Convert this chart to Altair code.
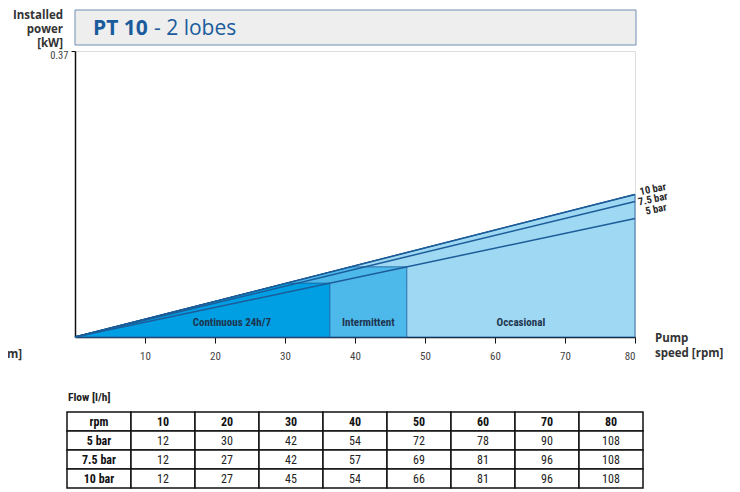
import altair as alt
import pandas as pd

# ---------------- data ----------------
rpm_ticks = [10, 20, 30, 40, 50, 60, 70, 80]
max_rpm = 80
y_max = 0.37
pressure_labels = ["10 bar", "7.5 bar", "5 bar"]
power_at_max_rpm = [0.1843, 0.1753, 0.1532]   # kW at 80 rpm

region_names = ["Continuous 24h/7", "Intermittent", "Occasional"]
region_end_rpm = [36.4, 47.4, 80]
region_label_rpm = [22.4, 41.9, 63.7]

table_cols = ["rpm", "10", "20", "30", "40", "50", "60", "70", "80"]
table_rows = ["5 bar", "7.5 bar", "10 bar"]
flow_5 = [12, 30, 42, 54, 72, 78, 90, 108]
flow_75 = [12, 27, 42, 57, 69, 81, 96, 108]
flow_10 = [12, 27, 45, 54, 66, 81, 96, 108]

# ---------------- styles ----------------
region_colors = ["#009ee2", "#4db8ea", "#9fd8f3"]
line_color = "#1c5c99"
title_color = "#1a5b9c"
txt_dark = "#2a2a2a"
COND = "Liberation Sans Narrow, Roboto Condensed, DejaVu Sans Condensed, Roboto"
SANS = "Open Sans"

# ---------------- derived tables ----------------
lines_df = pd.DataFrame(
    [{"pressure": p, "rpm": 0, "power": 0.0} for p in pressure_labels]
    + [{"pressure": p, "rpm": max_rpm, "power": v} for p, v in zip(pressure_labels, power_at_max_rpm)]
)

slope_top = power_at_max_rpm[0] / max_rpm
slope_low = power_at_max_rpm[2] / max_rpm


def region_poly(end_rpm):
    if end_rpm >= max_rpm:
        return pd.DataFrame({"rpm": [0, max_rpm], "power": [0, power_at_max_rpm[0]]})
    cap = slope_low * end_rpm
    xb = cap / slope_top
    return pd.DataFrame({"rpm": [0, xb, end_rpm], "power": [0, cap, cap]})


xs = alt.Scale(domain=[0, max_rpm], nice=False, zero=False)
ys = alt.Scale(domain=[0, y_max], nice=False)


def X(**kw):
    return alt.X("rpm:Q", scale=xs, title=None, **kw)


def Y(**kw):
    return alt.Y("power:Q", scale=ys, title=None, **kw)


areas = []
for name, end, col in reversed(list(zip(region_names, region_end_rpm, region_colors))):
    areas.append(
        alt.Chart(region_poly(end)).mark_area(
            color=col, stroke=line_color, strokeWidth=0.8, opacity=1
        ).encode(x=X(), y=Y())
    )

lines = alt.Chart(lines_df).mark_line(color=line_color, strokeWidth=1.5).encode(
    x=X(axis=alt.Axis(values=rpm_ticks, grid=False, tickSize=6, labelPadding=7,
                      labelFontSize=11, labelFont=COND, labelColor="#444",
                      domainColor="#111", domainWidth=1.5, tickColor="#111")),
    y=Y(axis=alt.Axis(values=[y_max], format=".2f", grid=False, tickSize=4,
                      labelFlush=False, labelBaseline="middle", labelOffset=4,
                      labelPadding=3, labelFontSize=10.5, labelFont=COND, labelColor="#444",
                      domainColor="#111", domainWidth=1.5, tickColor="#111")),
    detail="pressure:N",
)

# offsets given in the rotated text frame (angle -12 deg)
label_offsets = [(18.6, -1.2), (18.0, 1.8), (22.4, -4.4)]
line_labels = []
for p, v, (dx, dy) in zip(pressure_labels, power_at_max_rpm, label_offsets):
    line_labels.append(
        alt.Chart(pd.DataFrame({"t": [p], "rpm": [max_rpm], "power": [v]})).mark_text(
            align="center", baseline="middle", angle=348, dx=dx, dy=dy,
            font=COND, fontSize=10.5, fontWeight="bold", color=txt_dark
        ).encode(x=X(), y=Y(), text="t:N")
    )

region_labels = alt.Chart(pd.DataFrame({"t": region_names, "rpm": region_label_rpm})).mark_text(
    align="center", baseline="middle", font=COND, fontSize=11, fontWeight="bold", color="#1e3550"
).encode(x=X(), y=alt.value(272), text="t:N")


def text_at(t, x, y, **kw):
    return alt.Chart(pd.DataFrame({"t": [t]})).mark_text(**kw).encode(
        x=alt.value(x), y=alt.value(y), text="t:N")


title_box = alt.Chart(pd.DataFrame({"a": [0]})).mark_rect(
    fill="#eeeeee", stroke="#6f8fb3", strokeWidth=1
).encode(x=alt.value(0), x2=alt.value(561), y=alt.value(-41), y2=alt.value(-6))

title_a = text_at("PT 10", 18, -16, align="left", baseline="alphabetic", font=SANS,
                  fontSize=21, fontWeight="bold", color=title_color)
title_b = text_at("- 2 lobes", 79, -16, align="left", baseline="alphabetic", font=SANS,
                  fontSize=21, color=title_color)

ytitle = alt.Chart(pd.DataFrame({"a": [0]})).mark_text(
    align="right", baseline="top", font=SANS, fontSize=11.5, fontWeight="bold",
    color="#333", lineHeight=14
).encode(x=alt.value(-12), y=alt.value(-41), text=alt.value(["Installed", "power", "[kW]"]))

xtitle = alt.Chart(pd.DataFrame({"a": [0]})).mark_text(
    align="left", baseline="top", font=SANS, fontSize=11.5, fontWeight="bold",
    color="#333", lineHeight=15
).encode(x=alt.value(580), y=alt.value(282), text=alt.value(["Pump", "speed [rpm]"]))

cut_title = text_at("speed [rpm]", -53, 304, align="right", baseline="middle", font=SANS,
                    fontSize=11.5, fontWeight="bold", color="#333")

flow_title = text_at("Flow [l/h]", -7, 347, align="left", baseline="middle", font=COND,
                     fontSize=11.5, fontWeight="bold", color="#222")

main = alt.layer(lines, *areas, lines, *line_labels, region_labels, title_box, title_a, title_b,
                 ytitle, xtitle, cut_title, flow_title)

# ---------------- table ----------------
row_domain = ["hdr"] + table_rows
cells = []
for c in table_cols:
    cells.append({"col": c, "row": "hdr", "t": c, "bold": True})
for r, vals in zip(table_rows, [flow_5, flow_75, flow_10]):
    cells.append({"col": "rpm", "row": r, "t": r, "bold": True})
    for c, v in zip(table_cols[1:], vals):
        cells.append({"col": c, "row": r, "t": str(v), "bold": False})
cells_df = pd.DataFrame(cells)

tx = alt.Scale(domain=table_cols, range=[-8, 568], paddingInner=0, paddingOuter=0)
ty = alt.Scale(domain=row_domain, range=[361, 437], paddingInner=0, paddingOuter=0)

TX = alt.X("col:N", scale=tx, axis=None, sort=table_cols)
TY = alt.Y("row:N", scale=ty, axis=None, sort=row_domain)

tbase = alt.Chart(cells_df)
rects = tbase.mark_rect(fill="white", stroke="#111", strokeWidth=1.5).encode(x=TX, y=TY)
t_bold = tbase.transform_filter("datum.bold").mark_text(
    font=COND, fontSize=12, fontWeight="bold", color="#111", baseline="middle"
).encode(x=TX, y=TY, text="t:N")
t_norm = tbase.transform_filter("!datum.bold").mark_text(
    font=COND, fontSize=12, color="#222", baseline="middle"
).encode(x=TX, y=TY, text="t:N")

table = alt.layer(rects, t_bold, t_norm)

chart = alt.layer(main, table).resolve_scale(x="independent", y="independent").properties(
    width=560, height=286,
    autosize=alt.AutoSizeParams(type="none"),
    padding={"left": 67, "top": 43, "right": 97, "bottom": 153},
).configure_view(stroke="#cccccc", strokeWidth=2).configure(background="white")

chart.save("out.html", embed_options={"renderer": "svg", "actions": False})
